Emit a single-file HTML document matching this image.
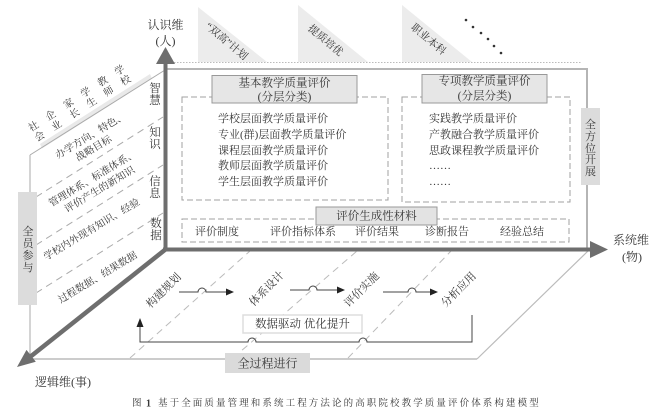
<!DOCTYPE html>
<html><head><meta charset="utf-8">
<style>
html,body{margin:0;padding:0;background:#fff;}
svg{display:block;}
text{font-family:"Liberation Serif","Noto Serif CJK SC",serif;fill:#383838;}
</style></head><body>
<svg width="665" height="415" viewBox="0 0 665 415" xmlns="http://www.w3.org/2000/svg">
<!-- top triangles -->
<polygon points="198,7 198,62 267,62" fill="#ececec"/>
<polygon points="298,5 298,62 368,62" fill="#ececec"/>
<polygon points="402,5 402,62 472,62" fill="#ececec"/>
<text x="226" y="42" font-size="10.5" text-anchor="middle" dominant-baseline="central" transform="rotate(40 226 42)">“双高”计划</text>
<text x="325" y="41" font-size="10.5" text-anchor="middle" dominant-baseline="central" transform="rotate(40 325 41)">提质培优</text>
<text x="428" y="40" font-size="10.5" text-anchor="middle" dominant-baseline="central" transform="rotate(40 428 40)">职业本科</text>
<g fill="#333">
<circle cx="466" cy="20" r="1.3"/><circle cx="473" cy="27" r="1.3"/><circle cx="481" cy="33" r="1.3"/>
<circle cx="488" cy="39" r="1.3"/><circle cx="494" cy="46" r="1.3"/><circle cx="501" cy="53" r="1.3"/>
</g>
<line x1="168" y1="62.5" x2="582" y2="62.5" stroke="#bbb" stroke-width="1" stroke-dasharray="1.5,1.5"/>

<!-- top face frame -->
<line x1="165" y1="69" x2="588" y2="69" stroke="#b5b5b5" stroke-width="2"/>
<line x1="587" y1="68" x2="587" y2="250" stroke="#b5b5b5" stroke-width="2"/>

<!-- left face -->
<polygon points="40,144 150,74 152,78.5 42,148.5" fill="#e4e4e4" opacity="0.8"/>
<line x1="165" y1="70" x2="30" y2="155" stroke="#aaa" stroke-width="1"/>
<line x1="30" y1="155" x2="30" y2="359" stroke="#aaa" stroke-width="1"/>
<g stroke="#aaa" stroke-width="1" stroke-dasharray="7,5">
<line x1="36" y1="197" x2="163" y2="117"/>
<line x1="36" y1="245" x2="163" y2="165"/>
<line x1="36" y1="293" x2="163" y2="213"/>
</g>

<!-- bottom face -->
<line x1="30" y1="359" x2="477" y2="359" stroke="#bbb" stroke-width="1.5"/>
<line x1="477" y1="359" x2="588" y2="251" stroke="#bbb" stroke-width="1.2"/>
<g stroke="#bbb" stroke-width="1" stroke-dasharray="7,5">
<line x1="130" y1="358" x2="250" y2="251"/>
<line x1="233" y1="358" x2="357" y2="251"/>
<line x1="348" y1="358" x2="451" y2="251"/>
</g>

<!-- axes -->
<g stroke="#6e6e6e" fill="#6e6e6e">
<line x1="165.5" y1="251" x2="165.5" y2="63" stroke-width="4"/>
<polygon points="156,64 175,64 165.5,47" stroke="none"/>
<line x1="163" y1="249.5" x2="592" y2="249.5" stroke-width="4"/>
<polygon points="590,241 590,258 608,249.5" stroke="none"/>
<line x1="166" y1="249" x2="30" y2="357" stroke-width="4.5"/>
<polygon points="17,367 35.8,361.7 26.5,349.9" stroke="none"/>
</g>

<!-- axis labels -->
<text x="165.5" y="25" font-size="12" text-anchor="middle" dominant-baseline="central">认识维</text>
<text x="165.5" y="41" font-size="12" text-anchor="middle" dominant-baseline="central">(人)</text>
<text x="631" y="240" font-size="12" text-anchor="middle" dominant-baseline="central">系统维</text>
<text x="632" y="257" font-size="12" text-anchor="middle" dominant-baseline="central">(物)</text>
<text x="35" y="382" font-size="12" dominant-baseline="central">逻辑维(事)</text>

<!-- top-left stakeholders -->
<g font-size="10" text-anchor="middle" dominant-baseline="central">
<text x="120" y="71" transform="rotate(-31 120 71)">学</text><text x="126" y="81" transform="rotate(-31 126 81)">校</text>
<text x="103" y="82" transform="rotate(-31 103 82)">教</text><text x="109" y="92" transform="rotate(-31 109 92)">师</text>
<text x="86" y="93" transform="rotate(-31 86 93)">学</text><text x="92" y="103" transform="rotate(-31 92 103)">生</text>
<text x="69" y="104" transform="rotate(-31 69 104)">家</text><text x="75" y="114" transform="rotate(-31 75 114)">长</text>
<text x="51" y="116" transform="rotate(-31 51 116)">企</text><text x="57" y="126" transform="rotate(-31 57 126)">业</text>
<text x="34" y="127" transform="rotate(-31 34 127)">社</text><text x="40" y="137" transform="rotate(-31 40 137)">会</text>
</g>

<!-- left face texts -->
<g font-size="10" text-anchor="middle" dominant-baseline="central">
<text x="91" y="136" transform="rotate(-31 91 136)">办学方向、特色、</text>
<text x="94" y="149" transform="rotate(-31 94 149)">战略目标</text>
<text x="93" y="179" transform="rotate(-31 93 179)">管理体系、标准体系、</text>
<text x="100" y="190" transform="rotate(-31 100 190)">评价产生的新知识</text>
<text x="92" y="230" transform="rotate(-31 92 230)">学校内外现有知识、经验</text>
<text x="98" y="278" transform="rotate(-31 98 278)">过程数据、结果数据</text>
</g>

<!-- vertical labels near axis -->
<g font-size="11.5" text-anchor="middle" dominant-baseline="central">
<text x="155" y="89">智</text><text x="155" y="101">慧</text>
<text x="155" y="133">知</text><text x="155" y="145">识</text>
<text x="155" y="182">信</text><text x="155" y="194">息</text>
<text x="156" y="224">数</text><text x="156" y="236">据</text>
</g>

<!-- top face content -->
<g fill="none" stroke="#a0a0a0" stroke-width="1" stroke-dasharray="6,3">
<rect x="182" y="97" width="206" height="103"/>
<rect x="402" y="97" width="168" height="105"/>
<rect x="182" y="219" width="387" height="23"/>
</g>
<rect x="212" y="75.5" width="145" height="27.5" fill="#e6e6e6" stroke="#999" stroke-width="1"/>
<text x="284.5" y="83.5" font-size="11.5" text-anchor="middle" dominant-baseline="central">基本教学质量评价</text>
<text x="284.5" y="97.5" font-size="11.5" text-anchor="middle" dominant-baseline="central">(分层分类)</text>
<rect x="422" y="74.5" width="125" height="28.5" fill="#e6e6e6" stroke="#999" stroke-width="1"/>
<text x="484.5" y="81.5" font-size="11.5" text-anchor="middle" dominant-baseline="central">专项教学质量评价</text>
<text x="484.5" y="96.5" font-size="11.5" text-anchor="middle" dominant-baseline="central">(分层分类)</text>

<g font-size="11" dominant-baseline="central">
<text x="218" y="119">学校层面教学质量评价</text>
<text x="218" y="135">专业(群)层面教学质量评价</text>
<text x="218" y="151">课程层面教学质量评价</text>
<text x="218" y="166">教师层面教学质量评价</text>
<text x="218" y="182">学生层面教学质量评价</text>
<text x="429" y="119">实践教学质量评价</text>
<text x="429" y="135">产教融合教学质量评价</text>
<text x="429" y="151">思政课程教学质量评价</text>
<text x="429" y="166">……</text>
<text x="429" y="182">……</text>
</g>

<rect x="316" y="207" width="121" height="18" fill="#e3e3e3" stroke="#999" stroke-width="1"/>
<text x="376.5" y="216.5" font-size="11.5" text-anchor="middle" dominant-baseline="central">评价生成性材料</text>
<g font-size="11" dominant-baseline="central">
<text x="195" y="232">评价制度</text>
<text x="270" y="232">评价指标体系</text>
<text x="355" y="232">评价结果</text>
<text x="425" y="232">诊断报告</text>
<text x="500" y="232">经验总结</text>
</g>

<!-- side boxes -->
<rect x="581" y="108" width="19" height="77" fill="#dcdcdc"/>
<g font-size="11" text-anchor="middle" dominant-baseline="central">
<text x="590.5" y="125">全</text><text x="590.5" y="137">方</text><text x="590.5" y="149">位</text><text x="590.5" y="160">开</text><text x="590.5" y="172">展</text>
</g>
<rect x="18" y="192" width="19" height="113" fill="#dcdcdc"/>
<g font-size="11" text-anchor="middle" dominant-baseline="central">
<text x="28" y="232">全</text><text x="28" y="244">员</text><text x="28" y="256">参</text><text x="28" y="268">与</text>
</g>

<!-- process -->
<g font-size="11" text-anchor="middle" dominant-baseline="central">
<text x="164" y="291" transform="rotate(-45 164 291)">构建规划</text>
<text x="267" y="289" transform="rotate(-45 267 289)">体系设计</text>
<text x="362" y="290" transform="rotate(-45 362 290)">评价实施</text>
<text x="459" y="290" transform="rotate(-45 459 290)">分析应用</text>
</g>
<g fill="none" stroke="#444" stroke-width="1">
<path d="M179,292 H198 a4,4 0 0 1 8,0 H227"/>
<path d="M290,290 H309 a4,4 0 0 1 8,0 H338"/>
<path d="M383,292 H408 a4,4 0 0 1 8,0 H431"/>
<path d="M140,324 V342 H248 a4,4 0 0 1 8,0 H359 a4,4 0 0 1 8,0 H472 V315"/>
</g>
<g fill="#222">
<polygon points="226,288.5 226,295.5 234,292"/>
<polygon points="337,286.5 337,293.5 345,290"/>
<polygon points="430,288.5 430,295.5 438,292"/>
<polygon points="136.5,327 143.5,327 140,318"/>
</g>
<rect x="243" y="315" width="119" height="18" fill="#fff" stroke="#ddd" stroke-width="1.5"/>
<text x="302.5" y="324.5" font-size="11.5" text-anchor="middle" dominant-baseline="central">数据驱动  优化提升</text>

<rect x="225" y="353" width="85" height="20" fill="#dadada"/>
<text x="267.5" y="363.5" font-size="12" text-anchor="middle" dominant-baseline="central">全过程进行</text>

<!-- caption -->
<text x="132" y="404" font-size="9.5" dominant-baseline="central" fill="#444">图</text>
<text x="146" y="404" font-size="10" font-weight="bold" dominant-baseline="central" fill="#444">1</text>
<text x="158" y="404" font-size="9.5" dominant-baseline="central" fill="#444" style="letter-spacing:2.1px">基于全面质量管理和系统工程方法论的高职院校教学质量评价体系构建模型</text>
</svg>
</body></html>
